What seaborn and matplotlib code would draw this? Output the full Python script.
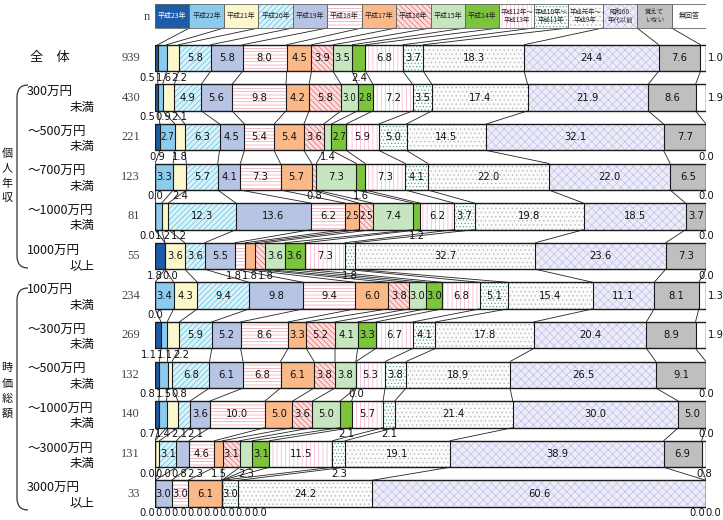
import numpy as np
import pandas as pd
import seaborn as sns
import matplotlib.pyplot as plt
from matplotlib.patches import Rectangle, PathPatch
from matplotlib.path import Path

sns.set_theme(style="white")
plt.rcParams['font.family'] = ['Noto Sans CJK JP', 'DejaVu Sans']
plt.rcParams['hatch.linewidth'] = 0.45

# legend / series names
categories = ['平成23年', '平成22年', '平成21年', '平成20年', '平成19年', '平成18年',
              '平成17年', '平成16年', '平成15年', '平成14年', '平成12年～\n平成13年',
              '平成10年～\n平成11年', '平成元年～\n平成9年', '昭和60\n年代以前',
              '覚えて\nいない', '無回答']

# row labels (two lines) and sample sizes
label_top = ['全　体', '300万円', '～500万円', '～700万円', '～1000万円', '1000万円',
             '100万円', '～300万円', '～500万円', '～1000万円', '～3000万円', '3000万円']
label_bottom = ['', '未満', '未満', '未満', '未満', '以上',
                '未満', '未満', '未満', '未満', '未満', '以上']
n_values = [939, 430, 221, 123, 81, 55, 234, 269, 132, 140, 131, 33]

# percentages per row, in category order
zentai   = [0.5, 1.6, 2.2, 5.8, 5.8, 8.0, 4.5, 3.9, 3.5, 2.4, 6.8, 3.7, 18.3, 24.4, 7.6, 1.0]
inc_300  = [0.5, 0.9, 2.1, 4.9, 5.6, 9.8, 4.2, 5.8, 3.0, 2.8, 7.2, 3.5, 17.4, 21.9, 8.6, 1.9]
inc_500  = [0.9, 2.7, 1.8, 6.3, 4.5, 5.4, 5.4, 3.6, 1.4, 2.7, 5.9, 5.0, 14.5, 32.1, 7.7, 0.0]
inc_700  = [0.0, 3.3, 2.4, 5.7, 4.1, 7.3, 5.7, 0.8, 7.3, 1.6, 7.3, 4.1, 22.0, 22.0, 6.5, 0.0]
inc_1000 = [0.0, 1.2, 1.2, 12.3, 13.6, 6.2, 2.5, 2.5, 7.4, 1.2, 6.2, 3.7, 19.8, 18.5, 3.7, 0.0]
inc_over = [1.8, 0.0, 3.6, 3.6, 5.5, 1.8, 1.8, 1.8, 3.6, 3.6, 7.3, 1.8, 32.7, 23.6, 7.3, 0.0]
mv_100   = [0.0, 3.4, 4.3, 9.4, 9.8, 9.4, 6.0, 3.8, 3.0, 3.0, 6.8, 5.1, 15.4, 11.1, 8.1, 1.3]
mv_300   = [1.1, 1.1, 2.2, 5.9, 5.2, 8.6, 3.3, 5.2, 4.1, 3.3, 6.7, 4.1, 17.8, 20.4, 8.9, 1.9]
mv_500   = [0.8, 1.5, 0.8, 6.8, 6.1, 6.8, 6.1, 3.8, 3.8, 0.0, 5.3, 3.8, 18.9, 26.5, 9.1, 0.0]
mv_1000  = [0.7, 1.4, 2.1, 2.1, 3.6, 10.0, 5.0, 3.6, 5.0, 2.1, 5.7, 2.1, 21.4, 30.0, 5.0, 0.0]
mv_3000  = [0.0, 0.0, 0.8, 3.1, 2.3, 4.6, 1.5, 3.1, 2.3, 3.1, 11.5, 2.3, 19.1, 38.9, 6.9, 0.8]
mv_over  = [0.0, 0.0, 0.0, 0.0, 3.0, 3.0, 6.1, 0.0, 0.0, 0.0, 0.0, 3.0, 24.2, 60.6, 0.0, 0.0]

rows = [zentai, inc_300, inc_500, inc_700, inc_1000, inc_over,
        mv_100, mv_300, mv_500, mv_1000, mv_3000, mv_over]

# styles per category
fills = ['#1d5ca8', '#8ccaee', '#fdf8cc', '#daf3fb', '#b8c4e4', '#ffffff',
         '#fbb888', '#fcdcdc', '#c6e6c0', '#7cc43c', '#ffffff', '#ffffff',
         '#fbfbfb', '#ededf9', '#bfbfbf', '#ffffff']
hatches = [None, None, None, '//////', None, '-----', None, '\\\\\\\\\\\\',
           None, None, '||||', '.....', '....', 'xxxx', None, None]
hatch_cols = ['#1d5ca8', '#8ccaee', '#fdf8cc', '#50bce0', '#b8c4e4', '#f096a4',
              '#fbb888', '#e46060', '#c6e6c0', '#7cc43c', '#f2a6c8', '#4aa478',
              '#b4b4b4', '#bcbce6', '#bfbfbf', '#ffffff']

W, H = 723, 520
LEFT_PX, RIGHT_PX = 155, 706
Y0_PX, PITCH = 58, 39.6
BAR_H = 0.67


def px2x(px):
    return (px - LEFT_PX) / (RIGHT_PX - LEFT_PX) * 100


def px2y(py):
    return (py - Y0_PX) / PITCH


vals = np.array(rows)
pct = vals / vals.sum(axis=1, keepdims=True) * 100
cum = np.cumsum(pct, axis=1)
n_rows, n_cat = vals.shape
row_ids = [f'r{i}' for i in range(n_rows)]

fig = plt.figure(figsize=(W / 100, H / 100), dpi=100)
ax = fig.add_axes([LEFT_PX / W, 0, (RIGHT_PX - LEFT_PX) / W, 1])

# stacked bars: draw cumulative layers from the right end down
for k in range(n_cat - 1, -1, -1):
    df = pd.DataFrame({'row': row_ids, 'cum': cum[:, k]})
    sns.barplot(data=df, x='cum', y='row', order=row_ids, orient='h',
                color=fills[k], saturation=1, width=BAR_H, errorbar=None,
                hatch=hatches[k], edgecolor=hatch_cols[k], linewidth=0, ax=ax)

# outlines and separators
for i in range(n_rows):
    ax.add_patch(Rectangle((0, i - BAR_H / 2), 100, BAR_H, fill=False,
                           edgecolor='#1a1a1a', lw=1.0, zorder=3))
    ax.vlines(cum[i, :-1], i - BAR_H / 2, i + BAR_H / 2, color='#1a1a1a',
              lw=0.8, zorder=3)

# series lines between bars
for i in range(n_rows - 1):
    for k in range(n_cat):
        ax.plot([cum[i, k], cum[i + 1, k]], [i + BAR_H / 2, i + 1 - BAR_H / 2],
                color='#222222', lw=0.6, zorder=2)

# legend row on top
leg_top, leg_bot = px2y(4), px2y(28)
lw_box = 100 / n_cat
for k in range(n_cat):
    ax.add_patch(Rectangle((k * lw_box, leg_top), lw_box, leg_bot - leg_top,
                           facecolor=fills[k], hatch=hatches[k],
                           edgecolor=hatch_cols[k], lw=0, zorder=2))
    ax.add_patch(Rectangle((k * lw_box, leg_top), lw_box, leg_bot - leg_top,
                           fill=False, edgecolor='#666666', lw=0.6, zorder=3))
    two = '\n' in categories[k]
    ax.text((k + 0.5) * lw_box, (leg_top + leg_bot) / 2, categories[k],
            ha='center', va='center', fontsize=4.6 if two else 5.0,
            linespacing=1.1, color='white' if k == 0 else '#222222', zorder=4)
    ax.plot([(k + 1) * lw_box, cum[0, k]], [leg_bot, -BAR_H / 2],
            color='#222222', lw=0.6, zorder=2)

ax.text(px2x(147), px2y(17), 'n', ha='center', va='center', fontsize=9,
        family=['Liberation Serif', 'DejaVu Serif'], color='#444444')


def spread(xs, gap, xmin, xmax):
    groups = []
    for x in xs:
        groups.append([x, 1])
        while len(groups) > 1:
            m1, c1 = groups[-2]
            m2, c2 = groups[-1]
            if (m2 - (c2 - 1) * gap / 2) - (m1 + (c1 - 1) * gap / 2) < gap:
                c = c1 + c2
                groups[-2:] = [[(m1 * c1 + m2 * c2) / c, c]]
            else:
                break
    out, prev_end = [], -1e9
    for m, c in groups:
        start = max(m - (c - 1) * gap / 2, prev_end + gap, xmin)
        start = min(start, xmax - (c - 1) * gap)
        for j in range(c):
            out.append(start + j * gap)
        prev_end = out[-1]
    return out


num_font = dict(family=['Liberation Sans Narrow', 'DejaVu Sans'],
                fontstretch='condensed', color='#111111', zorder=5)

for i in range(n_rows):
    below = []
    for k in range(n_cat):
        v = vals[i, k]
        txt = f'{v:.1f}'
        center = cum[i, k] - pct[i, k] / 2
        if k == n_cat - 1 and v >= 1.0:
            ax.text(100.4, i, txt, ha='left', va='center', fontsize=8, **num_font)
        elif k < n_cat - 1 and v >= 2.5:
            fs = 7 if pct[i, k] < 3 else 8
            ax.text(center, i, txt, ha='center', va='center', fontsize=fs, **num_font)
        else:
            below.append((center, txt))
    if below:
        xs = spread([c for c, _ in below], 2.9, -1.4, 101.4)
        for x, (_, txt) in zip(xs, below):
            ax.text(x, i + BAR_H / 2 + 0.16, txt, ha='center', va='center',
                    fontsize=8, **num_font)

    # row labels and n
    yc = Y0_PX + PITCH * i
    if label_bottom[i]:
        ax.text(px2x(27), px2y(yc - 5), label_top[i], ha='left', va='center',
                fontsize=9, color='#111111')
        ax.text(px2x(95), px2y(yc + 9.5), label_bottom[i], ha='right',
                va='center', fontsize=9, color='#111111')
    else:
        ax.text(px2x(30), i, label_top[i], ha='left', va='center',
                fontsize=9.5, color='#111111')
    ax.text(px2x(140), i, str(n_values[i]), ha='right', va='center',
            fontsize=9, family=['Liberation Serif', 'DejaVu Serif'],
            color='#444444')

# group brackets and vertical group titles
groups = [('個人年収', 85, 268, 176), ('時価総額', 288, 510, 391)]
for title, top, bot, mid in groups:
    pts = [(28, top), (17, top), (17, top + 12), (17, bot - 12), (17, bot), (28, bot)]
    verts = [(px2x(a), px2y(b)) for a, b in pts]
    codes = [Path.MOVETO, Path.CURVE3, Path.CURVE3, Path.LINETO, Path.CURVE3, Path.CURVE3]
    ax.add_patch(PathPatch(Path(verts, codes), fill=False, edgecolor='#333333',
                           lw=0.9, clip_on=False))
    for j, ch in enumerate(title):
        ax.text(px2x(7), px2y(mid + (j - 1.5) * 15), ch, ha='center',
                va='center', fontsize=8, color='#111111')

ax.set_xlim(0, 100)
ax.set_ylim(px2y(H), px2y(0))
ax.set_axis_off()
for t in ax.texts:
    t.set_clip_on(False)

fig.savefig('out.png', dpi=100)
